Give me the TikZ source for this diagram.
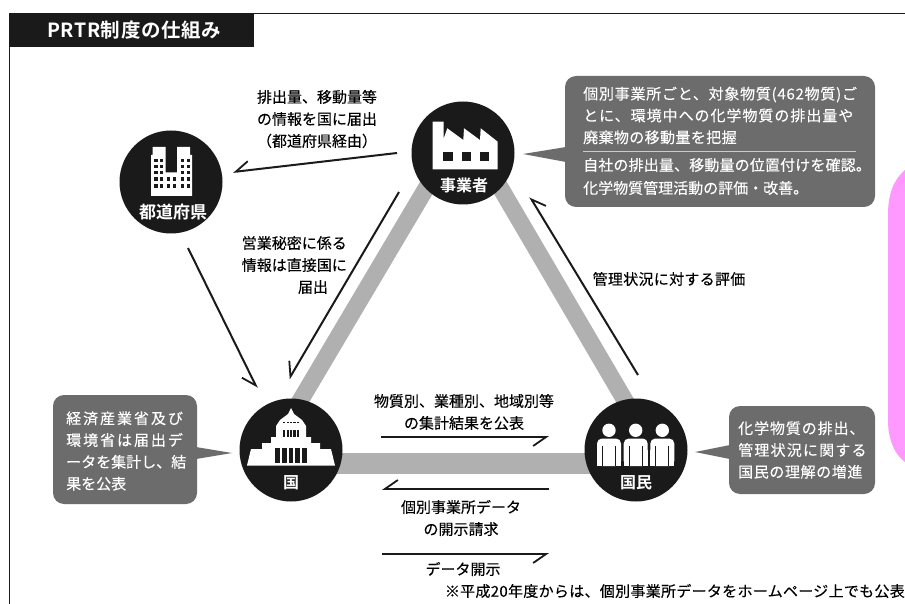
\documentclass[tikz,border=0pt]{standalone}
\usepackage{fontspec}
\setmainfont{Noto Sans CJK JP}[BoldFont=* Bold,UprightFeatures={FakeBold=0.25}]
\usetikzlibrary{arrows.meta,calc,backgrounds}
\definecolor{ink}{HTML}{1A1A1A}
\definecolor{callgray}{HTML}{6C6C6C}
\definecolor{bargray}{HTML}{B0B0B0}
\definecolor{pinkband}{HTML}{FF99FF}
\newcommand\lsp[2]{{\addfontfeature{LetterSpace=#1}#2}}
\tikzset{
  hub/.style={circle,fill=ink,minimum size=103pt,inner sep=0pt,outer sep=0pt},
  hubtext/.style={text=white,font=\fontsize{16}{18}\selectfont\bfseries,inner sep=0pt},
  callbox/.style={rectangle,rounded corners=11pt,fill=callgray,inner sep=0pt,outer sep=0pt},
  calltext/.style={text=white,align=left,inner sep=0pt,font=\fontsize{15}{21.8}\selectfont},
  label/.style={text=black,align=center,inner sep=0pt,font=\fontsize{15}{22}\selectfont},
  flow/.style={draw=ink,line width=2pt,-{Straight Barb[harpoon,swap,length=13pt,width=18pt,line width=1.8pt]}},
  leg/.style={draw=bargray,line width=17pt},
  iconfill/.style={fill=white,draw=none},
  hole/.style={fill=ink,draw=none},
}
\begin{document}
\begin{tikzpicture}[x=1pt,y=-1pt]
\useasboundingbox (0,0) rectangle (905,604);

% frame and title
\draw[ink,line width=1.1pt] (9.5,604) -- (9.5,13.5) -- (905,13.5);
\node[rectangle,fill=ink,minimum width=245pt,minimum height=34pt,inner sep=0pt,anchor=north west] (titlebox) at (9,13) {};
\node[text=white,font=\fontsize{19.5}{22}\selectfont\bfseries,inner sep=0pt,anchor=west] (title) at (47,30) {\lsp{3}{PRTR制度の仕組み}};

% hubs
\node[hub] (pref) at (171,182) {};
\node[hub] (biz) at (463,153) {};
\node[hub] (gov) at (291,450) {};
\node[hub] (pub) at (636,450) {};

\begin{scope}[on background layer]
  \fill[white] (0,0) rectangle (905,604);
  \fill[pinkband] (905,170) .. controls (893,180) and (888,195) .. (888,215) -- (888,420) .. controls (888,440) and (895,455) .. (905,462) -- cycle;
  \draw[leg] ($(biz)+(-16,0)$) -- ($(gov)+(-20,0)$);
  \draw[leg] ($(biz)+(17,0)$) -- ($(pub)+(18,0)$);
  \draw[leg,line width=21pt] ($(gov)+(0,13)$) -- ($(pub)+(0,13)$);
\end{scope}

% building icon
\fill[iconfill] (151,196) -- (151,155) -- (152.5,155) -- (152.5,147) -- (165.5,147) -- (165.5,172.5) -- (177,172.5) -- (177,147) -- (190,147) -- (190,155) -- (192,155) -- (192,196) -- cycle;
\foreach \wx in {155.7,161.5,182.3,188.3}
  \foreach \wy in {160.7,166.7,172.7,179.3,186}
    \fill[hole] (\wx-1.8,\wy-1.8) rectangle (\wx+1.8,\wy+1.8);
\foreach \wx in {168.3,174.3}
  \foreach \wy in {179.3,186}
    \fill[hole] (\wx-1.8,\wy-1.8) rectangle (\wx+1.8,\wy+1.8);
\node[hubtext,font=\fontsize{17}{19}\selectfont\bfseries] (preft) at (173,212) {都道府県};

% factory icon
\fill[iconfill] (432.7,121.7) -- (443.5,121.7) -- (443.5,139) -- (447.3,128.3) -- (463.3,140) -- (464,128.3) -- (480,140) -- (480.7,128.3) -- (497.7,141.7) -- (497.7,169.3) -- (432.7,169.3) -- cycle;
\foreach \wx in {443.3,461.7,480}
  \fill[hole] (\wx,151.7) rectangle (\wx+9.3,161);
\node[hubtext] (bizt) at (464,185) {事業者};

% diet building icon
\fill[iconfill] (247,465.5) -- (251,449) -- (262,449) -- (262,443) -- (271,443) -- (271,437) -- (276,437) -- (276,426) -- (280,420) -- (288,414) -- (291,408)
  -- (294,414) -- (302,420) -- (306,426) -- (306,437) -- (311,437) -- (311,443) -- (320,443) -- (320,449) -- (331,449) -- (335,465.5) -- cycle;
\foreach \wx in {-13.4,-6.7,0,6.7,13.4}
  \fill[hole] (291+\wx-2.3,447.7) rectangle (291+\wx+2.3,462.7);
\foreach \wx in {-6.8,-3.4,0,3.4,6.8}{
  \fill[hole] (291+\wx-1.1,429.5) rectangle (291+\wx+1.1,437);
  \fill[hole] (291+\wx-1.1,421.5) rectangle (291+\wx+1.1,423);
}
\node[hubtext] (govt) at (291,483) {国};

% people icon
\foreach \px in {609,635.7,662.3}{
  \fill[iconfill] (\px,430.3) circle (6.7);
  \fill[iconfill,rounded corners=5pt] (\px-12,466) -- (\px-12,438.5) -- (\px+12,438.5) -- (\px+12,466) -- cycle;
  \fill[iconfill] (\px-12,450) rectangle (\px+12,466);
  \fill[hole] (\px-6.9,446) rectangle (\px-5.9,466);
  \fill[hole] (\px+5.9,446) rectangle (\px+6.9,466);
}
\node[hubtext] (pubt) at (636,483) {国民};

% callouts
\node[callbox,minimum width=310pt,minimum height=131pt] (callA) at (720,141.5) {};
\fill[callgray] (566,147) -- (523,154) -- (566,162) -- cycle;
\node[calltext,anchor=west] (callAa) at (583,115.5) {\lsp{5}{個別事業所ごと、対象物質(462物質)ご}\\\lsp{6.5}{とに、環境中への化学物質の排出量や}\\\lsp{2.5}{廃棄物の移動量を把握}};
\draw[white!80!black,line width=0.8pt] (583,151) -- (856,151);
\node[calltext,anchor=west,font=\fontsize{15}{23}\selectfont] (callAb) at (583,176.5) {\lsp{1}{自社の排出量、移動量の位置付けを確認。}\\化学物質管理活動の評価・改善。};

\node[callbox,minimum width=144pt,minimum height=109pt] (callB) at (125,449.5) {};
\fill[callgray] (196,447) -- (232,453) -- (196,459) -- cycle;
\node[calltext,anchor=west] (callBt) at (66,451) {\lsp{13}{経済産業省及び}\\\lsp{13}{環境省は届出デ}\\ータを集計し、結\\果を公表};

\node[callbox,minimum width=146pt,minimum height=88pt] (callC) at (802,450) {};
\fill[callgray] (730,445) -- (695,452) -- (730,459) -- cycle;
\node[calltext,anchor=west] (callCt) at (738,450) {\lsp{6}{化学物質の排出、}\\\lsp{8}{管理状況に関する}\\\lsp{4}{国民の理解の増進}};

% labels
\node[label] (l1) at (317,119) {排出量、移動量等\\の情報を国に届出\\（都道府県経由）};
\node[label,anchor=east] (l2) at (347,254) {営業秘密に係る\\情報は直接国に};
\node[label] (l2b) at (313,287) {届出};
\node[label] (l3) at (669,279) {\lsp{2}{管理状況に対する評価}};
\node[label] (l4) at (464,412) {物質別、業種別、地域別等\\の集計結果を公表};
\node[label] (l5) at (461,518) {個別事業所データ\\の開示請求};
\node[label] (l6) at (463,569) {データ開示};
\node[label,anchor=east] (note) at (905,591) {\lsp{2}{※平成20年度からは、個別事業所データをホームページ上でも公表}};

% connectors
\coordinate (aBizPrefS) at ($(biz)+(-66,0)$);
\coordinate (aBizPrefE) at ($(pref)+(62,-10)$);
\draw[flow] (aBizPrefS) -- (aBizPrefE);
\coordinate (aPrefGovS) at ($(pref)+(17,66)$);
\coordinate (aPrefGovE) at ($(gov)+(-34,-62)$);
\draw[flow] (aPrefGovS) -- (aPrefGovE);
\coordinate (aBizGovS) at ($(biz)+(-64,39)$);
\coordinate (aBizGovE) at ($(gov)+(-2,-71)$);
\draw[flow] (aBizGovS) -- (aBizGovE);
\coordinate (aPubBizS) at ($(pub)+(2,-75)$);
\coordinate (aPubBizE) at ($(biz)+(67,44)$);
\draw[flow] (aPubBizS) -- (aPubBizE);
\coordinate (aGovPubS) at ($(gov)+(90,-13)$);
\coordinate (aGovPubE) at ($(pub)+(-87,-13)$);
\draw[flow] (aGovPubS) -- (aGovPubE);
\coordinate (aPubGovS) at ($(pub)+(-87,39)$);
\coordinate (aPubGovE) at ($(gov)+(91,39)$);
\draw[flow] (aPubGovS) -- (aPubGovE);
\coordinate (aGovPub2S) at ($(gov)+(91,104)$);
\coordinate (aGovPub2E) at ($(pub)+(-87,104)$);
\draw[flow] (aGovPub2S) -- (aGovPub2E);
\end{tikzpicture}
\end{document}
